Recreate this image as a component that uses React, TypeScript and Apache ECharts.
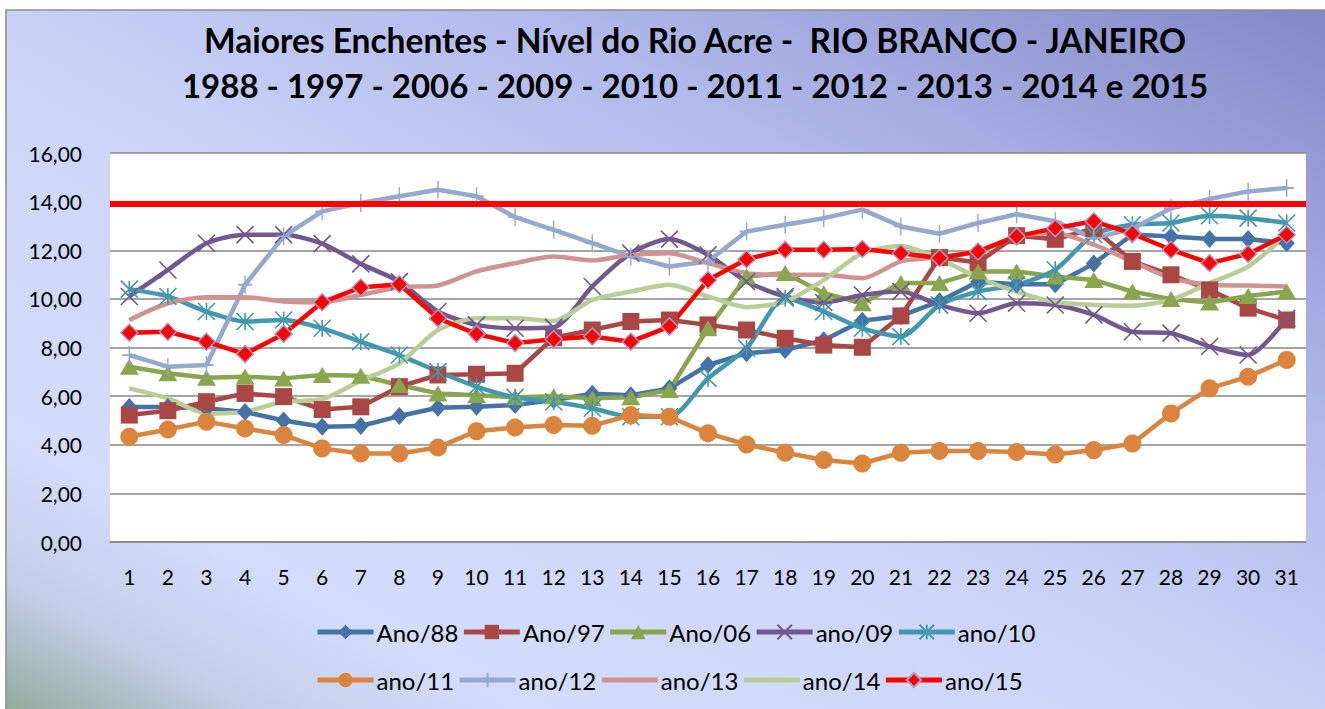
import React, { useEffect, useRef } from "react";
import * as echarts from "echarts";

const days = ["1","2","3","4","5","6","7","8","9","10","11","12","13","14","15","16","17","18","19","20","21","22","23","24","25","26","27","28","29","30","31"];
const yTicks = [0, 2, 4, 6, 8, 10, 12, 14, 16];
const overflowLevel = 13.9;

const ano88 = [5.55,5.55,5.5,5.35,5.0,4.74,4.77,5.18,5.52,5.56,5.63,5.84,6.1,6.04,6.32,7.28,7.76,7.9,8.3,9.1,9.3,9.9,10.7,10.6,10.6,11.45,12.65,12.57,12.46,12.46,12.29];
const ano97 = [5.22,5.4,5.77,6.11,5.98,5.45,5.56,6.39,6.87,6.9,6.94,8.4,8.72,9.07,9.13,8.93,8.72,8.38,8.1,8.01,9.3,11.7,11.5,12.6,12.45,12.9,11.54,10.99,10.37,9.62,9.13];
const ano06 = [7.21,6.94,6.76,6.8,6.73,6.87,6.84,6.46,6.11,6.04,5.95,6.0,5.91,5.95,6.25,8.79,10.92,11.06,10.23,9.82,10.65,10.65,11.13,11.13,10.92,10.78,10.3,9.99,9.85,10.12,10.3];
const ano09 = [10.1,11.19,12.29,12.64,12.64,12.27,11.44,10.71,9.48,8.93,8.79,8.83,10.51,11.88,12.46,11.81,10.71,10.1,9.85,10.16,10.3,9.75,9.41,9.82,9.75,9.34,8.65,8.59,8.04,7.69,9.2];
const ano10 = [10.4,10.1,9.48,9.07,9.13,8.79,8.24,7.69,7.01,6.39,5.95,5.77,5.5,5.15,5.15,6.73,7.97,10.03,9.48,8.79,8.45,9.75,10.3,10.58,11.2,12.65,13.05,13.12,13.42,13.32,13.12];
const ano11 = [4.33,4.63,4.95,4.67,4.4,3.85,3.64,3.64,3.89,4.56,4.71,4.81,4.78,5.22,5.15,4.47,4.01,3.67,3.37,3.23,3.67,3.74,3.74,3.7,3.6,3.78,4.05,5.29,6.32,6.8,7.49];
const ano12 = [7.69,7.21,7.28,10.58,12.57,13.6,13.94,14.22,14.49,14.22,13.36,12.84,12.29,11.74,11.33,11.54,12.77,13.05,13.32,13.67,12.98,12.68,13.12,13.48,13.19,12.5,12.88,13.73,14.11,14.42,14.56];
const ano13 = [9.13,9.82,10.07,10.07,9.89,9.86,10.16,10.48,10.55,11.13,11.47,11.74,11.58,11.81,11.88,11.47,11.06,10.99,10.99,10.85,11.54,11.72,11.95,12.57,12.7,12.23,11.54,10.85,10.58,10.55,10.51];
const ano14 = [6.32,5.91,5.29,5.36,5.77,5.87,6.63,7.35,8.72,9.2,9.2,9.09,9.96,10.3,10.58,10.1,9.66,9.89,10.78,11.88,12.17,11.64,10.88,10.3,9.87,9.75,9.72,9.96,10.65,11.33,12.64];
const ano15 = [8.61,8.65,8.24,7.73,8.56,9.86,10.47,10.6,9.2,8.56,8.18,8.34,8.45,8.24,8.86,10.78,11.63,12.02,12.02,12.05,11.88,11.68,11.95,12.57,12.91,13.19,12.68,12.02,11.47,11.85,12.64];

const titleLine1 = "Maiores Enchentes - Nível do Rio Acre -  RIO BRANCO - JANEIRO";
const titleLine2 = "1988 - 1997 - 2006 - 2009 - 2010 - 2011 - 2012 - 2013 - 2014 e 2015";

const FONT = "Lato, 'Noto Sans', sans-serif";

const xSym = "path://M0,0L10,10M10,0L0,10";
const starSym = "path://M5,0L5,10M0,0L10,10M10,0L0,10";
const plusSym = "path://M5,0L5,10M0,5L10,5";

export default function App() {
  const ref = useRef<HTMLDivElement>(null);
  useEffect(() => {
    if (!ref.current) return;
    const chart = echarts.init(ref.current, undefined, { renderer: "svg" });
    const mk = (name: string, data: number[], color: string, symbol: string, symbolSize: any, extra: any = {}) => ({
      name,
      type: "line",
      data,
      symbol,
      symbolSize,
      showSymbol: true,
      lineStyle: { color, width: 4.5 },
      itemStyle: { color, borderColor: color, borderWidth: 0 },
      emphasis: { disabled: true },
      ...extra,
    });
    const strokeSym = (color: string) => ({ itemStyle: { color, borderColor: color, borderWidth: 1.6 } });
    const plainLine = { showSymbol: false, smooth: 0.25, itemStyle: { color: "rgba(0,0,0,0)", borderWidth: 0 } };
    const legendStyle = () => ({
      left: 315,
      padding: 0,
      itemWidth: 56,
      itemHeight: 18,
      itemGap: 3,
      lineStyle: { width: 5 },
      textStyle: { fontSize: 24, color: "#000", fontFamily: FONT, padding: [0, 0, 0, -2] },
    });
    chart.setOption({
      animation: false,
      backgroundColor: "#ffffff",
      graphic: [
        {
          type: "rect",
          z: -10,
          silent: true,
          shape: { x: 6, y: 10, width: 1330, height: 710 },
          style: {
            fill: new echarts.graphic.LinearGradient(1, 0, 0, 1, [
              { offset: 0, color: "#8388c6" },
              { offset: 0.3, color: "#b0b9ea" },
              { offset: 0.55, color: "#cdd6f8" },
              { offset: 0.8, color: "#d3dcfa" },
              { offset: 0.9, color: "#c3cfe8" },
              { offset: 1, color: "#90a896" },
            ]),
            stroke: "#8c8c8c",
            lineWidth: 1.5,
          },
        },
        {
          type: "text",
          x: 695,
          y: 40,
          style: { text: titleLine1, font: `bold 33.5px ${FONT}`, fill: "#000", textAlign: "center", textVerticalAlign: "middle" },
        },
        {
          type: "text",
          x: 695,
          y: 85,
          style: { text: titleLine2, font: `bold 33px ${FONT}`, fill: "#000", textAlign: "center", textVerticalAlign: "middle" },
        },
      ],
      grid: { left: 110, right: 19, top: 153, bottom: 167, show: true, backgroundColor: "#ffffff", borderWidth: 0 },
      legend: [
        { ...legendStyle(), top: 620, data: ["Ano/88", "Ano/97", "Ano/06", "ano/09", "ano/10"] },
        { ...legendStyle(), top: 668, data: ["ano/11", "ano/12", "ano/13", "ano/14", "ano/15"] },
      ],
      xAxis: {
        type: "category",
        data: days,
        boundaryGap: true,
        axisLine: { lineStyle: { color: "#878787", width: 1.5 } },
        axisTick: { show: false },
        axisLabel: { fontSize: 21, color: "#000", fontFamily: FONT, margin: 24, interval: 0 },
      },
      yAxis: {
        type: "value",
        min: yTicks[0],
        max: yTicks[yTicks.length - 1],
        interval: yTicks[1] - yTicks[0],
        axisLine: { show: false },
        axisTick: { show: false },
        splitLine: { lineStyle: { color: "#878787", width: 1.5 } },
        axisLabel: {
          fontSize: 21,
          color: "#000",
          fontFamily: FONT,
          margin: 28,
          formatter: (v: number) => v.toFixed(2).replace(".", ","),
        },
      },
      series: [
        mk("Ano/88", ano88, "#4572a7", "diamond", [16, 18]),
        mk("Ano/97", ano97, "#aa4643", "rect", 17),
        mk("Ano/06", ano06, "#89a54e", "triangle", [19, 16]),
        mk("ano/09", ano09, "#71588f", xSym, 17, { ...strokeSym("#71588f"), smooth: 0.25 }),
        mk("ano/10", ano10, "#4198af", starSym, 17, { ...strokeSym("#4198af"), smooth: 0.25 }),
        mk("ano/11", ano11, "#db843d", "circle", 18),
        mk("ano/12", ano12, "#93a9cf", plusSym, [14, 18], strokeSym("#93a9cf")),
        mk("ano/13", ano13, "#d19392", "circle", 1, plainLine),
        mk("ano/14", ano14, "#b9cd96", "circle", 1, plainLine),
        mk("ano/15", ano15, "#ff0000", "diamond", 17, {
          itemStyle: { color: "#ff0000", borderColor: "#a99bc4", borderWidth: 1.5 },
          markLine: {
            silent: true,
            symbol: "none",
            label: { show: false },
            lineStyle: { color: "#ff0000", width: 6, type: "solid" },
            data: [{ yAxis: overflowLevel }],
          },
        }),
      ],
    });
    return () => chart.dispose();
  }, []);
  return <div ref={ref} style={{ position: "fixed", left: 0, top: 0, width: 1325, height: 709 }} />;
}
